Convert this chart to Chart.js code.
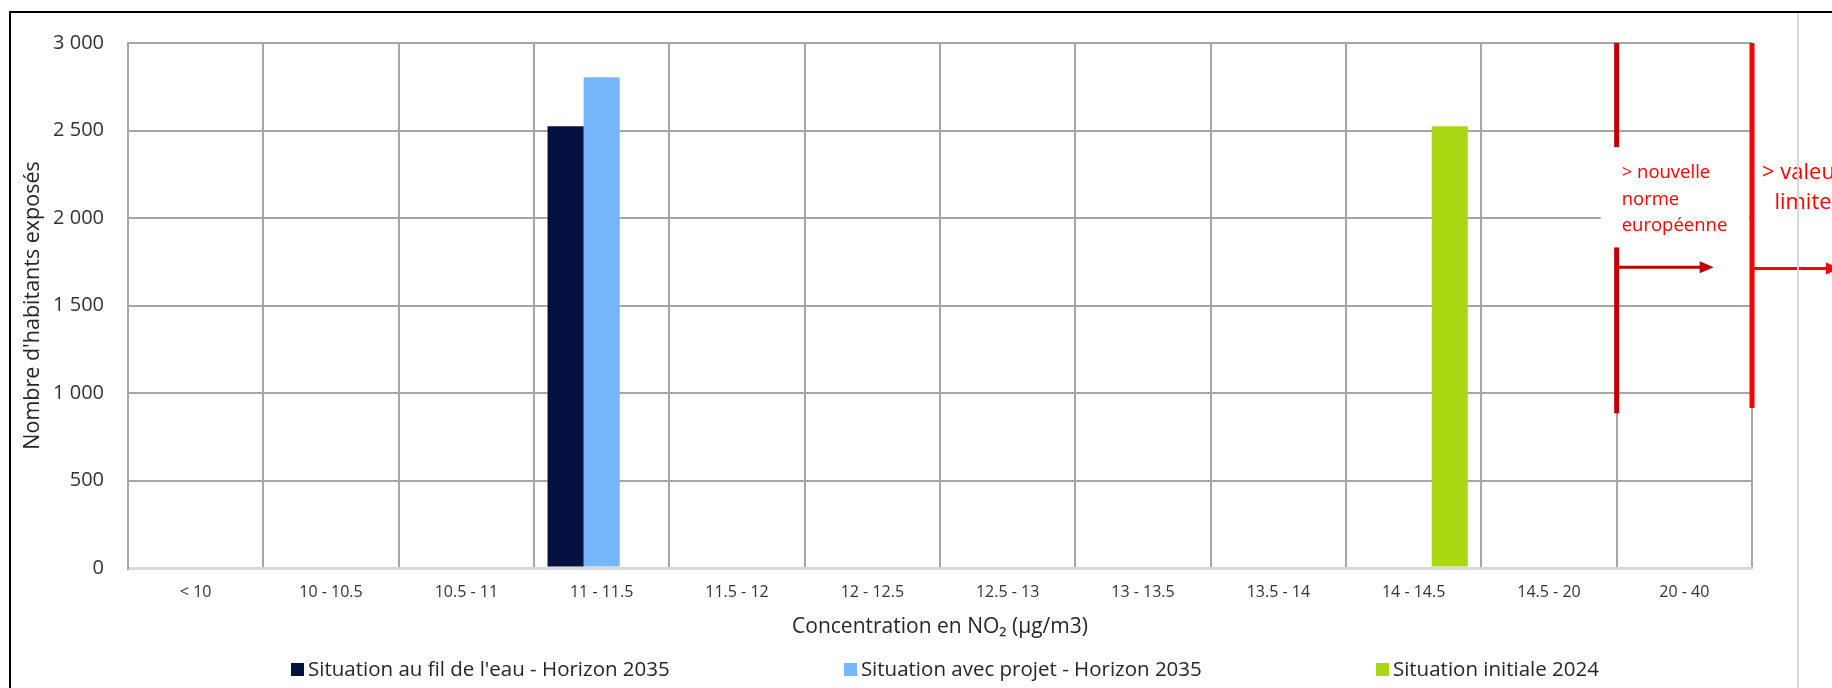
<!DOCTYPE html>
<html lang="fr">
<head>
    <meta charset="UTF-8">
    <title>Concentration en NO2 - habitants exposés</title>
    <script src="https://cdn.jsdelivr.net/npm/chart.js"></script>
    <style>
        body { margin: 0; background: #fff; font-family: "Open Sans", sans-serif; }
        #wrap { position: relative; width: 1832px; height: 688px; overflow: hidden; }
        #frameTop { position: absolute; left: 9px; top: 11px; width: 1823px; height: 2px; background: #000; }
        #frameLeft { position: absolute; left: 9px; top: 11px; width: 2px; height: 677px; background: #000; }
        #frameRight { position: absolute; left: 1797px; top: 13px; width: 2px; height: 675px; background: #d9d9d9; }
        #legend { position: absolute; left: 291px; width: 1308px; top: 656px; height: 24px;
                  display: flex; justify-content: space-between; align-items: center;
                  font-size: 20.5px; color: #262626; line-height: 24px; }
        #legend span.box { display: inline-block; width: 13px; height: 13px; margin-right: 4px; vertical-align: 0px; }
    </style>
</head>
<body>
<div id="wrap">
    <canvas id="barChart" width="1832" height="688"></canvas>
    <div id="frameTop"></div>
    <div id="frameLeft"></div>
    <div id="frameRight"></div>
    <div id="legend"></div>
</div>

<script>
    // Tranches de concentration (axe X)
    const categories = ['< 10', '10 - 10.5', '10.5 - 11', '11 - 11.5', '11.5 - 12', '12 - 12.5',
        '12.5 - 13', '13 - 13.5', '13.5 - 14', '14 - 14.5', '14.5 - 20', '20 - 40'];

    // Nombre d'habitants exposés par scénario
    const filEau2035 = [0, 0, 0, 2525, 0, 0, 0, 0, 0, 0, 0, 0];
    const projet2035 = [0, 0, 0, 2805, 0, 0, 0, 0, 0, 0, 0, 0];
    const initiale2024 = [0, 0, 0, 0, 0, 0, 0, 0, 0, 2525, 0, 0];

    const seriesLabels = ["Situation au fil de l'eau - Horizon 2035", 'Situation avec projet - Horizon 2035', 'Situation initiale 2024'];
    const seriesColors = ['#021140', '#76b6fc', '#a9d813'];

    // Seuils réglementaires (bornes de classes) + textes
    const annotations = {
        norme: { text: ['> nouvelle', 'norme', 'européenne'] },
        limite: { text: ['> valeur', 'limite'] }
    };

    function frNumber(v) {
        return String(v).replace(/\B(?=(\d{3})+(?!\d))/g, ' ');
    }

    // Draws the red threshold lines, arrows and labels
    const seuilsPlugin = {
        id: 'seuils',
        afterDatasetsDraw(chart) {
            const ctx = chart.ctx;
            const x = chart.scales.x, y = chart.scales.y;
            const half = (x.getPixelForValue(1) - x.getPixelForValue(0)) / 2;
            const b1 = x.getPixelForValue(11) - half;
            const b2 = x.getPixelForValue(11) + half;

            ctx.save();
            ctx.lineCap = 'butt';

            // vertical lines
            ctx.lineWidth = 5;
            ctx.strokeStyle = '#c00000';
            ctx.beginPath();
            ctx.moveTo(b1, y.getPixelForValue(3000));
            ctx.lineTo(b1, y.getPixelForValue(885));
            ctx.stroke();

            ctx.strokeStyle = '#ff0000';
            ctx.beginPath();
            ctx.moveTo(b2, y.getPixelForValue(3000));
            ctx.lineTo(b2, y.getPixelForValue(915));
            ctx.stroke();

            // white box behind the text
            ctx.fillStyle = '#ffffff';
            const top = y.getPixelForValue(2405), bot = y.getPixelForValue(1832);
            ctx.fillRect(b1 - 16, top, (b2 - 3) - (b1 - 16), bot - top);

            // arrows
            function arrow(x0, x1, yy, color) {
                ctx.strokeStyle = color;
                ctx.fillStyle = color;
                ctx.lineWidth = 3;
                ctx.beginPath();
                ctx.moveTo(x0, yy);
                ctx.lineTo(x1 - 12, yy);
                ctx.stroke();
                ctx.beginPath();
                ctx.moveTo(x1 - 14, yy - 6);
                ctx.lineTo(x1, yy);
                ctx.lineTo(x1 - 14, yy + 6);
                ctx.closePath();
                ctx.fill();
            }
            arrow(b1 + 2, b1 + 97, y.getPixelForValue(1718), '#c00000');
            arrow(b2 + 2, b2 + 88, y.getPixelForValue(1712), '#ff0000');

            // texts
            ctx.fillStyle = '#ff0000';
            ctx.textBaseline = 'middle';
            ctx.font = '18.5px "Open Sans"';
            ctx.textAlign = 'left';
            annotations.norme.text.forEach((t, i) => ctx.fillText(t, b1 + 5, 173 + i * 26.5));
            ctx.font = '22px "Open Sans"';
            ctx.textAlign = 'center';
            annotations.limite.text.forEach((t, i) => ctx.fillText(t, b2 + 51, 173 + i * 30));
            ctx.restore();
        }
    };

    const ctx = document.getElementById('barChart').getContext('2d');
    const barChart = new Chart(ctx, {
        type: 'bar',
        data: {
            labels: categories,
            datasets: [
                { label: seriesLabels[0], data: filEau2035, backgroundColor: seriesColors[0] },
                { label: seriesLabels[1], data: projet2035, backgroundColor: seriesColors[1] },
                { label: seriesLabels[2], data: initiale2024, backgroundColor: seriesColors[2] }
            ]
        },
        options: {
            responsive: false,
            animation: false,
            devicePixelRatio: 1,
            categoryPercentage: 0.8,
            barPercentage: 1.0,
            layout: { padding: { left: 16, top: 43, right: 80, bottom: 44 } },
            plugins: {
                legend: { display: false },
                tooltip: { enabled: false }
            },
            scales: {
                x: {
                    afterFit: (s) => { s.height = 76; },
                    grid: { color: '#a6a6a6', lineWidth: 2, drawTicks: false },
                    border: { color: '#d9d9d9', width: 3 },
                    ticks: { color: '#333', font: { family: 'Open Sans', size: 16 }, padding: 15, maxRotation: 0, autoSkip: false },
                    title: {
                        display: true,
                        text: 'Concentration en NO₂ (µg/m3)',
                        color: '#262626',
                        font: { family: 'Open Sans', size: 21 },
                        padding: { top: 4, bottom: 4 }
                    }
                },
                y: {
                    min: 0,
                    max: 3000,
                    afterFit: (s) => { s.width = 112; },
                    grid: {
                        color: (c) => c.tick && c.tick.value === 0 ? '#d9d9d9' : '#a6a6a6',
                        lineWidth: (c) => c.tick && c.tick.value === 0 ? 3 : 2,
                        drawTicks: false
                    },
                    border: { color: '#a6a6a6', width: 2 },
                    ticks: {
                        stepSize: 500,
                        color: '#333',
                        padding: 24,
                        font: { family: 'Open Sans', size: 20 },
                        callback: (v) => frNumber(v)
                    },
                    title: {
                        display: true,
                        text: "Nombre d'habitants exposés",
                        color: '#262626',
                        font: { family: 'Open Sans', size: 21.5 },
                        padding: { top: 4, bottom: 4 }
                    }
                }
            }
        },
        plugins: [seuilsPlugin]
    });

    // HTML legend built from the chart's datasets
    const legendEl = document.getElementById('legend');
    barChart.data.datasets.forEach((ds) => {
        const item = document.createElement('div');
        const box = document.createElement('span');
        box.className = 'box';
        box.style.background = ds.backgroundColor;
        item.appendChild(box);
        item.appendChild(document.createTextNode(ds.label));
        legendEl.appendChild(item);
    });
</script>

</body>
</html>
